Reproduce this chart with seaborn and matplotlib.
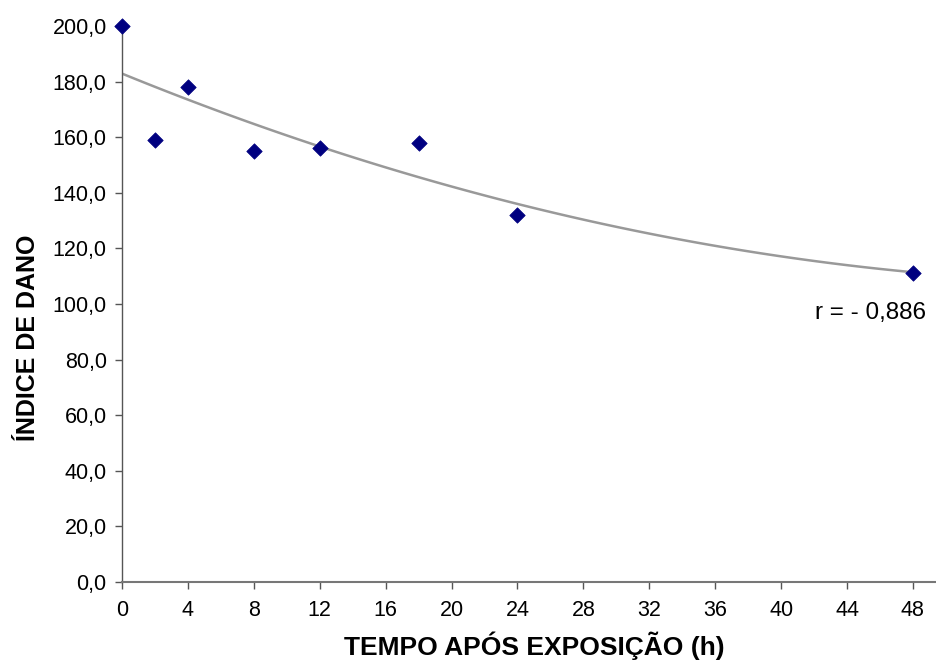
import matplotlib
matplotlib.use("Agg")
import matplotlib.pyplot as plt
import seaborn as sns
import pandas as pd
import numpy as np

# Data
tempo = [0, 2, 4, 8, 12, 18, 24, 48]
indice = [200, 159, 178, 155, 156, 158, 132, 111]
x_ticks = [0, 4, 8, 12, 16, 20, 24, 28, 32, 36, 40, 44, 48]
y_ticks = [0, 20, 40, 60, 80, 100, 120, 140, 160, 180, 200]
y_tick_labels = ["0,0", "20,0", "40,0", "60,0", "80,0", "100,0", "120,0",
                 "140,0", "160,0", "180,0", "200,0"]
r_label = "r = - 0,886"
x_label = "TEMPO APÓS EXPOSIÇÃO (h)"
y_label = "ÍNDICE DE DANO"

df = pd.DataFrame({"tempo": tempo, "indice": indice})

sns.set_theme(style="white")
plt.rcParams["font.family"] = ["Liberation Sans", "DejaVu Sans"]

fig = plt.figure(figsize=(9.36, 6.62), dpi=100)
ax = fig.add_axes([122 / 936, 80 / 662, 814 / 936, 556 / 662])

# polynomial (order 2) trend line
sns.regplot(data=df, x="tempo", y="indice", order=2, ci=None, scatter=False,
            ax=ax, line_kws={"color": "#999999", "linewidth": 1.8, "zorder": 2})
# points
sns.scatterplot(data=df, x="tempo", y="indice", marker="D", s=62,
                color="#000080", edgecolor="#000080", linewidth=0.5,
                ax=ax, zorder=3, clip_on=False)

ax.set_xlim(0, 49.4)
ax.set_ylim(0, 200)
ax.set_xticks(x_ticks)
ax.set_xticklabels([str(v) for v in x_ticks])
ax.set_yticks(y_ticks)
ax.set_yticklabels(y_tick_labels)

for s in ["top", "right"]:
    ax.spines[s].set_visible(False)
ax.spines["left"].set_color("#555555")
ax.spines["left"].set_linewidth(1.0)
ax.spines["bottom"].set_color("#777777")
ax.spines["bottom"].set_linewidth(1.5)

ax.tick_params(axis="both", which="major", direction="out", length=5,
               width=1.0, color="#555555", labelsize=15.5, labelcolor="black",
               left=True, bottom=True)
ax.tick_params(axis="y", pad=6)
ax.tick_params(axis="x", pad=8)

ax.set_xlabel(x_label, fontsize=19, fontweight="bold", color="black",
              va="center")
ax.xaxis.set_label_coords(0.507, -0.114)
ax.set_ylabel(y_label, fontsize=18, fontweight="bold", color="black",
              va="center")
ax.yaxis.set_label_coords(-0.1155, 0.44)

ax.text(48.8, 96.8, r_label, fontsize=17.5, ha="right", va="center",
        color="black")

fig.savefig("out.png", dpi=100)
